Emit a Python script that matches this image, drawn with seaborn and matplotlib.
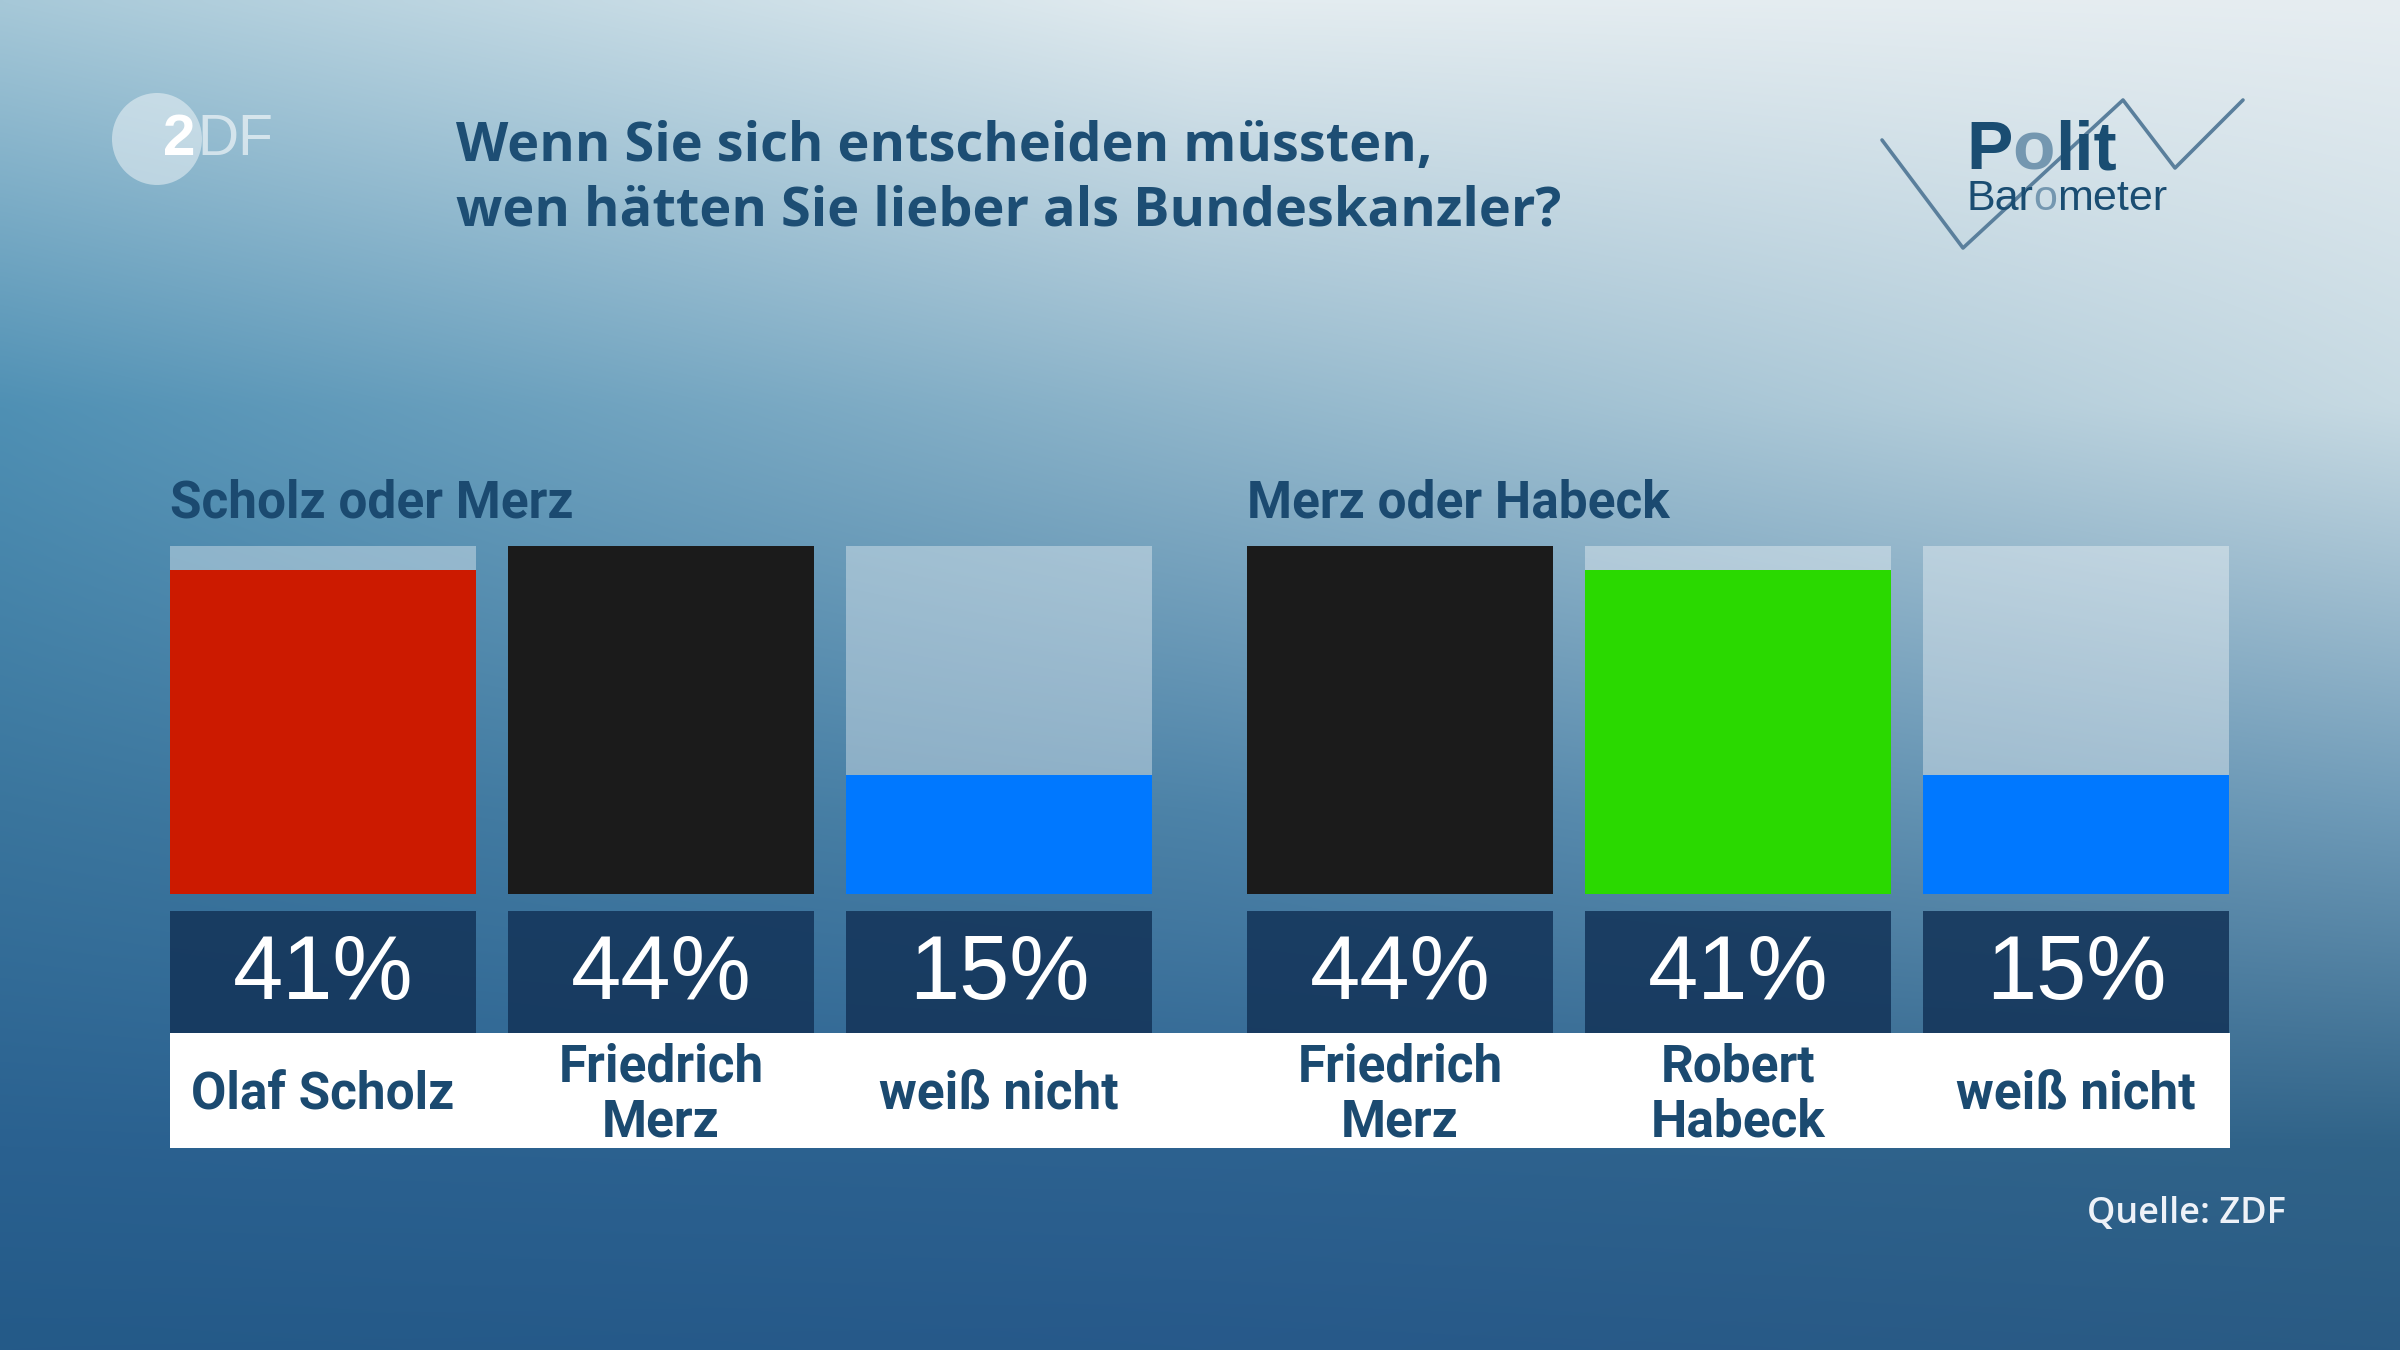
import numpy as np
import matplotlib
matplotlib.use("Agg")
import matplotlib.pyplot as plt
from matplotlib.colors import to_rgb
from matplotlib.patches import Rectangle, Ellipse
import seaborn as sns

#Data
title = "Wenn Sie sich entscheiden müssten,\nwen hätten Sie lieber als Bundeskanzler?"
group_titles = ["Scholz oder Merz", "Merz oder Habeck"]
labels_1 = ["Olaf Scholz", "Friedrich\nMerz", "weiß nicht"]
values_1 = [41, 44, 15]
colors_1 = ["#cc1a00", "#1b1b1b", "#0078ff"]
labels_2 = ["Friedrich\nMerz", "Robert\nHabeck", "weiß nicht"]
values_2 = [44, 41, 15]
colors_2 = ["#1b1b1b", "#2ad900", "#0078ff"]
source = "Quelle: ZDF"

#Theme
sns.set_theme(style="white")
plt.rcParams['font.family'] = ['Open Sans', 'DejaVu Sans']
NARROW = ['Liberation Sans Narrow', 'Roboto', 'DejaVu Sans']
TXT = "#1b4a70"

W, H = 2400, 1350
fig = plt.figure(figsize=(24, 13.5), dpi=100)

def fx(px):
	return px / W

def fy(py):
	return 1 - py / H

#Background gradient
stops_x = [0, 0.5, 1.0]
stops_y = [0, 0.3, 0.6, 0.85, 1.0]
bg_grid = [["#a6c8d8", "#e3ecf0", "#e6edf1"],
           ["#4f90b4", "#90b6cb", "#c7dae3"],
           ["#3a759d", "#4d83a8", "#6f9bb8"],
           ["#2a6190", "#2d6290", "#306388"],
           ["#245a88", "#27598a", "#2a5b84"]]
grid = np.array([[to_rgb(c) for c in row] for row in bg_grid])
xs = np.linspace(0, 1, 480)
ys = np.linspace(0, 1, 270)
rows = np.stack([np.stack([np.interp(xs, stops_x, grid[i, :, ch]) for ch in range(3)], -1)
                 for i in range(len(stops_y))])
img = np.empty((270, 480, 3))
for ch in range(3):
	for j in range(480):
		img[:, j, ch] = np.interp(ys, stops_y, rows[:, j, ch])
bg = fig.add_axes([0, 0, 1, 1], zorder=0)
bg.imshow(img, aspect="auto", extent=[0, 1, 0, 1], interpolation="bicubic")
bg.set_xlim(0, 1); bg.set_ylim(0, 1)
bg.axis("off")

#Layout (pixels)
bar_top, bar_base = 546, 894
box_top, box_bot = 911, 1033
lab_bot = 1148
pitch, bar_w = 338, 306

def draw_group(left, labels, values, colors, gtitle):
	vmax = max(values)
	u = (bar_base - bar_top) / vmax
	ylo = -(lab_bot - bar_base) / u
	width_units = 2 + bar_w / pitch
	ax = fig.add_axes([fx(left), fy(lab_bot), fx(width_units * pitch), (lab_bot - bar_top) / H], zorder=2)
	ax.patch.set_alpha(0)
	cats = [l.replace("\n", " ") for l in labels]
	w = bar_w / pitch
	sns.barplot(x=cats, y=[vmax] * 3, color="white", alpha=0.36, width=w, ax=ax,
	            saturation=1, linewidth=0, edgecolor="none")
	sns.barplot(x=cats, y=values, hue=cats, palette=colors, width=w, ax=ax, saturation=1,
	            legend=False, linewidth=0, edgecolor="none")
	b0, b1 = -(box_bot - bar_base) / u, -(box_top - bar_base) / u
	ax.bar(range(3), b1 - b0, bottom=b0, width=w, color="#14355a", alpha=0.88, linewidth=0)
	for i, v in enumerate(values):
		ax.text(i, (b0 + b1) / 2 - 0.5, f"{v}%", ha="center", va="center", color="white",
		        fontsize=65, family=['Liberation Sans', 'DejaVu Sans'])
		ax.text(i, (b0 + ylo) / 2 - 0.6, labels[i], ha="center", va="center", color=TXT,
		        fontsize=37, fontweight="bold", family=NARROW, linespacing=1.12)
	ax.set_xlim(-w / 2, 2 + w / 2)
	ax.set_ylim(ylo, vmax)
	ax.axis("off")
	fig.text(fx(left), fy(504), gtitle, ha="left", va="center", color=TXT,
	         fontsize=37, fontweight="bold", family=NARROW)
	return ax

#White label strip
fig.add_artist(Rectangle((fx(170), fy(lab_bot)), fx(2230 - 170), (lab_bot - box_bot) / H,
                         transform=fig.transFigure, facecolor="white", edgecolor="none", zorder=1))

draw_group(170, labels_1, values_1, colors_1, group_titles[0])
draw_group(1247, labels_2, values_2, colors_2, group_titles[1])

#Title
fig.text(fx(456), fy(179), title, ha="left", va="center", color="#1d4e74",
         fontsize=39, fontweight="bold", linespacing=1.25)

#Source
fig.text(fx(2286), fy(1214), source, ha="right", va="center", color="#eef2f8",
         fontsize=26, fontweight="semibold")

#ZDF logo
fig.add_artist(Ellipse((fx(157), fy(139)), 90 / W, 92 / H, transform=fig.transFigure,
                       facecolor="white", alpha=0.45, edgecolor="none", zorder=3))
fig.text(fx(163), fy(140), "2", ha="left", va="center", color="white", fontsize=42,
         fontweight="bold", family=['Liberation Sans', 'DejaVu Sans'], zorder=4)
fig.text(fx(197), fy(140), "DF", ha="left", va="center", color="white", alpha=0.6, fontsize=41,
         family=['Liberation Sans', 'DejaVu Sans'], zorder=4)

#Politbarometer logo
zig_x = [1882, 1963, 2123, 2175, 2243]
zig_y = [140, 248, 100, 168, 100]
bg.plot([fx(x) for x in zig_x], [fy(y) for y in zig_y], color="#5a7f9c", lw=2.6, zorder=5)
renderer = fig.canvas.get_renderer()
def piece_text(x0, y, parts, size, weight):
	x = x0
	for s, c in parts:
		t = fig.text(fx(x), fy(y), s, ha="left", va="baseline", color=c, fontsize=size,
		             fontweight=weight, family=['Liberation Sans', 'DejaVu Sans'], zorder=6)
		x += t.get_window_extent(renderer).width
piece_text(1966, 169, [("P", "#1a4d72"), ("o", "#7497b0"), ("lit", "#1a4d72")], 50, "bold")
piece_text(1966, 210, [("Bar", "#1a4d72"), ("o", "#7497b0"), ("meter", "#1a4d72")], 31, "normal")

fig.savefig("out.png", dpi=100)
plt.close()
